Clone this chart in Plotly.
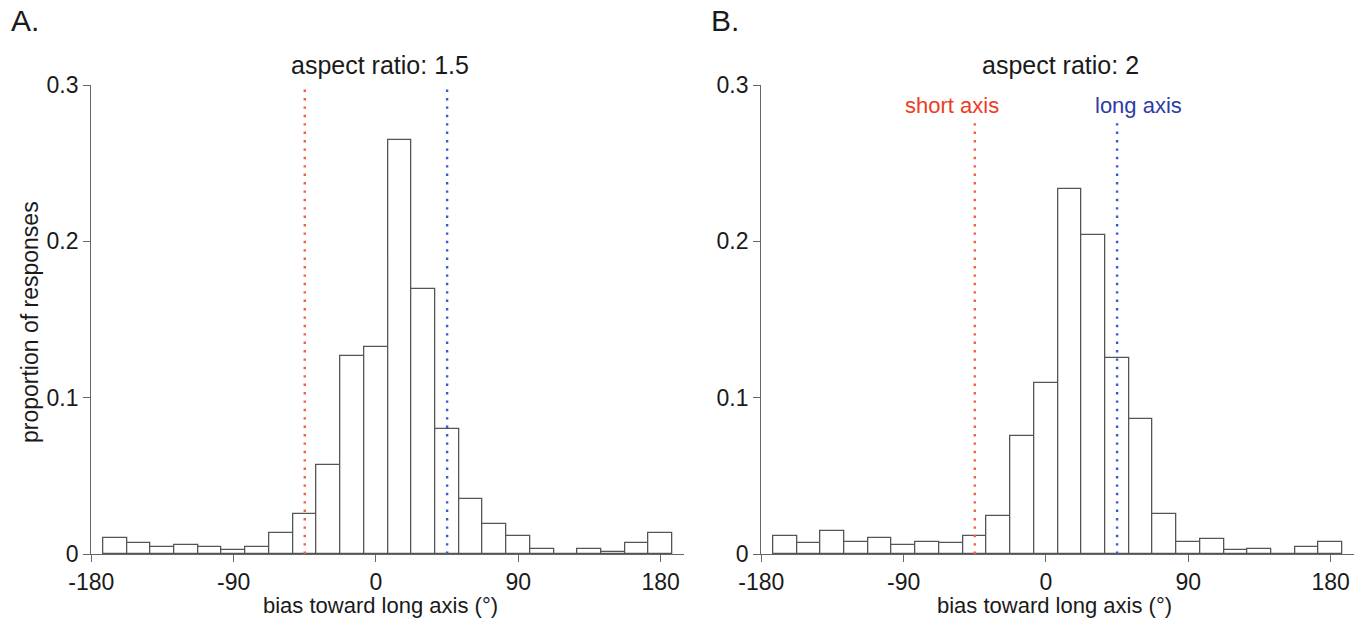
import plotly.graph_objects as go

# ---- data ----
bin_centers = [-165, -150, -135, -120, -105, -90, -75, -60, -45, -30, -15, 0,
               15, 30, 45, 60, 75, 90, 105, 120, 135, 150, 165, 180]
prop_ar15 = [0.0102, 0.0069, 0.0045, 0.0056, 0.0045, 0.0024, 0.0045, 0.0136,
             0.0253, 0.0572, 0.1264, 0.1324, 0.2650, 0.1693, 0.0797, 0.0354,
             0.0192, 0.0112, 0.0035, 0.0, 0.0035, 0.0011, 0.0069, 0.0136]
prop_ar2 = [0.0114, 0.0069, 0.0149, 0.0078, 0.0104, 0.0058, 0.0078, 0.0069,
            0.0114, 0.0240, 0.0754, 0.1093, 0.2333, 0.2043, 0.1253, 0.0866,
            0.0253, 0.0078, 0.0093, 0.0024, 0.0035, 0.0, 0.0045, 0.0078]
bin_width = 15
panel_letters = ["A.", "B."]
panel_titles = ["aspect ratio: 1.5", "aspect ratio: 2"]
axis_lines = [-45, 45]            # short axis, long axis
axis_line_names = ["short axis", "long axis"]
line_tops = [0.298, 0.277]         # top of dotted lines per panel
x_ticks = [-180, -90, 0, 90, 180]
x_tick_labels = ["-180", "-90", "0", "90", "180"]
y_ticks = [0, 0.1, 0.2, 0.3]
y_tick_labels = ["0", "0.1", "0.2", "0.3"]

# page body has an 8px margin: the figure is drawn 8px in from the corner
OFF = 8
W, H = 1355, 612
FONT = "Liberation Sans, Arial, Helvetica, sans-serif"
TXT = "#1a1a1a"
AX = "#666666"
RED_LINE = "#f2603f"
BLUE_LINE = "#2b5fd6"
RED_TXT = "#ee3b24"
BLUE_TXT = "#2d3ca6"


def px(x):
    return (x - OFF) / W


def py(y):
    return (H - (y - OFF)) / H


fig = go.Figure()

for i, vals in enumerate([prop_ar15, prop_ar2]):
    xa = "x" if i == 0 else "x2"
    ya = "y" if i == 0 else "y2"
    fig.add_trace(go.Bar(
        x=bin_centers, y=vals, width=bin_width,
        marker=dict(color="white", line=dict(color="#555555", width=1.3)),
        xaxis=xa, yaxis=ya, showlegend=False, hoverinfo="x+y"))
    for pos, col in zip(axis_lines, [RED_LINE, BLUE_LINE]):
        fig.add_trace(go.Scatter(
            x=[pos, pos], y=[0, line_tops[i]], mode="lines",
            line=dict(color=col, width=2.4, dash="2.4px,6px"),
            xaxis=xa, yaxis=ya, showlegend=False, hoverinfo="skip"))

xdom = [[91.3, 684.3], [761.3, 1354.3]]
common_x = dict(range=[-180, 195], tickvals=x_ticks, ticktext=x_tick_labels,
                showline=True, linecolor=AX, linewidth=1.3, ticks="outside",
                ticklen=7, tickwidth=1.3, tickcolor=AX, showgrid=False,
                zeroline=False, automargin=False,
                tickfont=dict(family=FONT, size=23, color=TXT))
common_y = dict(range=[0, 0.3], tickvals=y_ticks, ticktext=y_tick_labels,
                showline=True, linecolor=AX, linewidth=1.3, ticks="outside",
                ticklen=7, tickwidth=1.3, tickcolor=AX, showgrid=False,
                zeroline=False, automargin=False, domain=[py(554), py(85)],
                tickfont=dict(family=FONT, size=23, color=TXT))

fig.update_layout(
    template="none",
    width=W, height=H,
    margin=dict(l=0, r=0, t=0, b=0, autoexpand=False),
    paper_bgcolor="white", plot_bgcolor="white",
    bargap=0,
    xaxis=dict(domain=[px(xdom[0][0]), px(xdom[0][1])], anchor="y", **common_x),
    yaxis=dict(anchor="x", **common_y),
    xaxis2=dict(domain=[px(xdom[1][0]), px(xdom[1][1])], anchor="y2", **common_x),
    yaxis2=dict(anchor="x2", **common_y),
)

ann = []
letter_x = [9, 709]
title_cx = [380, 1060]
xtitle_cx = [380, 1054]
for i in range(2):
    ann.append(dict(text=panel_letters[i], x=px(letter_x[i]), y=py(20),
                    xref="paper", yref="paper", xanchor="left", yanchor="middle",
                    showarrow=False, font=dict(family=FONT, size=30, color=TXT)))
    ann.append(dict(text=panel_titles[i], x=px(title_cx[i]), y=py(65),
                    xref="paper", yref="paper", xanchor="center", yanchor="middle",
                    showarrow=False, font=dict(family=FONT, size=25, color=TXT)))
    ann.append(dict(text="bias toward long axis (°)", x=px(xtitle_cx[i]), y=py(605),
                    xref="paper", yref="paper", xanchor="center", yanchor="middle",
                    showarrow=False, font=dict(family=FONT, size=22, color=TXT)))

ann.append(dict(text="proportion of responses", x=px(30), y=py(322),
                xref="paper", yref="paper", xanchor="center", yanchor="middle",
                textangle=-90, showarrow=False,
                font=dict(family=FONT, size=23, color=TXT)))

# short / long axis labels on panel B
for pos, name, col, shift in zip(axis_lines, axis_line_names,
                                  [RED_TXT, BLUE_TXT], [-23, 21]):
    ann.append(dict(text=name, x=pos, y=0.287, xref="x2", yref="y2",
                    xshift=shift, xanchor="center", yanchor="middle",
                    showarrow=False, font=dict(family=FONT, size=22, color=col)))

fig.update_layout(annotations=ann)
fig.write_html("out.html")
